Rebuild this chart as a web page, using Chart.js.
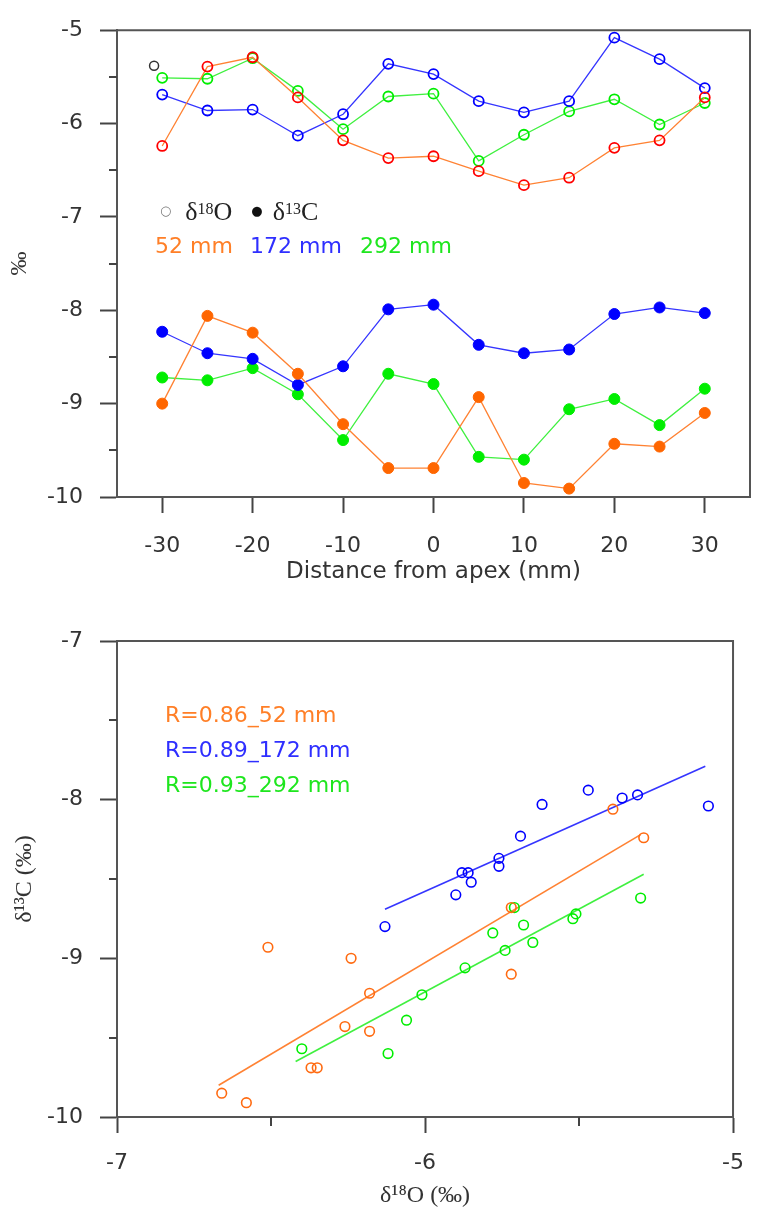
<!DOCTYPE html>
<html><head><meta charset="utf-8">
<script src="https://cdn.jsdelivr.net/npm/chart.js@4.4.1/dist/chart.umd.min.js"></script>
<style>
html,body{margin:0;padding:0;background:#fff;}
#wrap{width:761px;height:1211px;position:relative;overflow:hidden;}
.box{position:absolute;left:0;width:761px;}
#b1{top:0;height:600px;}
#b2{top:600px;height:611px;}
canvas{display:block;}
</style></head><body>
<div id="wrap">
<div class="box" id="b1"><canvas id="c1" width="761" height="600"></canvas></div>
<div class="box" id="b2"><canvas id="c2" width="761" height="611"></canvas></div>
</div>
<script>
// ---------- data ----------
const distance = [-30,-25,-20,-15,-10,-5,0,5,10,15,20,25,30];
const distanceTicks = [-30,-20,-10,0,10,20,30];
const d18O_52  = [-6.24,-5.39,-5.29,-5.72,-6.18,-6.37,-6.35,-6.51,-6.66,-6.58,-6.26,-6.18,-5.72];
const d18O_172 = [-5.69,-5.86,-5.85,-6.13,-5.90,-5.36,-5.47,-5.76,-5.88,-5.76,-5.08,-5.31,-5.62];
const d18O_292 = [-5.51,-5.52,-5.30,-5.65,-6.06,-5.71,-5.68,-6.40,-6.12,-5.87,-5.74,-6.01,-5.78];
const d13C_52  = [-9.00,-8.06,-8.24,-8.68,-9.22,-9.69,-9.69,-8.93,-9.85,-9.91,-9.43,-9.46,-9.10];
const d13C_172 = [-8.23,-8.46,-8.52,-8.80,-8.60,-7.99,-7.94,-8.37,-8.46,-8.42,-8.04,-7.97,-8.03];
const d13C_292 = [-8.72,-8.75,-8.62,-8.90,-9.39,-8.68,-8.79,-9.57,-9.60,-9.06,-8.95,-9.23,-8.84];
const strayMarkerX = [-30.9];
const strayMarkerY = [-5.38];
const seriesLabels = ['52 mm','172 mm','292 mm'];
const corrLabels = ['R=0.86_52 mm','R=0.89_172 mm','R=0.93_292 mm'];
const fitX_52  = [-6.67,-5.30], fitY_52  = [-9.80,-8.22];
const fitX_172 = [-6.13,-5.09], fitY_172 = [-8.69,-7.79];
const fitX_292 = [-6.42,-5.29], fitY_292 = [-9.65,-8.47];
const topYMinor = [-5.5,-6.5,-7.5,-8.5,-9.5];
const botYMinor = [-7.5,-8.5,-9.5];
const botXMinor = [-6.5,-5.5];

// ---------- helpers ----------
const pts = (xs, ys) => xs.map((x,i)=>({x:x, y:ys[i]}));
const SANS = '"DejaVu Sans", "Liberation Sans", sans-serif';
const SERIF = '"Liberation Serif", "DejaVu Serif", serif';
const AX = '#555', TK = '#444', TXT = '#333';
const C = {
  red:'#ff0000', orLine:'#ff8233', orFill:'#ff6600', orText:'#ff7f27',
  blue:'#0000ff', blLine:'#3535ff', blText:'#2f2fff',
  green:'#00ee00', grLine:'#40f040', grText:'#1ee61e'
};

const framePlugin = {
  id:'frame',
  afterDraw(chart, args, opts){
    const {ctx, chartArea:a, scales} = chart;
    ctx.save();
    ctx.strokeStyle = AX; ctx.lineWidth = 2;
    ctx.beginPath();
    ctx.moveTo(a.left, a.top); ctx.lineTo(a.right, a.top); ctx.lineTo(a.right, a.bottom);
    ctx.stroke();
    ctx.strokeStyle = TK; ctx.lineWidth = 2;
    (opts.yMinor||[]).forEach(v=>{
      const y = Math.round(scales.y.getPixelForValue(v));
      ctx.beginPath(); ctx.moveTo(a.left-8, y); ctx.lineTo(a.left, y); ctx.stroke();
    });
    (opts.xMinor||[]).forEach(v=>{
      const x = Math.round(scales.x.getPixelForValue(v));
      ctx.beginPath(); ctx.moveTo(x, a.bottom); ctx.lineTo(x, a.bottom+9); ctx.stroke();
    });
    ctx.restore();
  }
};
const textPlugin = {
  id:'overlayText',
  afterDraw(chart, args, opts){
    const ctx = chart.ctx;
    (opts.runs||[]).forEach(run=>{
      let x = run.x;
      run.parts.forEach(p=>{
        ctx.save();
        ctx.font = p.font; ctx.fillStyle = p.color;
        ctx.textBaseline = p.baseline || 'alphabetic'; ctx.textAlign = 'left';
        ctx.fillText(p.text, x, run.y + (p.dy||0));
        x += ctx.measureText(p.text).width + (p.gap||0);
        ctx.restore();
      });
    });
  }
};

function yScale(min, max, titleText, titlePad){
  return {
    type:'linear', min:min, max:max,
    afterFit: s => { s.width = 117; },
    ticks:{ stepSize:1, padding:17, color:TXT, font:{family:SANS, size:22} },
    grid:{ drawOnChartArea:false, drawTicks:true, tickLength:17, tickWidth:2, tickColor:TK },
    border:{ display:true, color:AX, width:2 },
    title:{ display:true, text:titleText, color:TXT, font:{family:SERIF, size:24}, padding:{top:titlePad, bottom:0} }
  };
}

// ---------- top chart ----------
const lineDs = (label, xs, ys, lineColor, ptColor, filled) => ({
  label:label, data:pts(xs, ys), showLine:true,
  borderColor:lineColor, borderWidth:1.3,
  pointRadius: filled ? 5.5 : 5, pointBorderWidth: filled ? 1 : 1.8,
  pointBorderColor:ptColor, pointBackgroundColor: filled ? ptColor : 'rgba(0,0,0,0)',
  pointStyle:'circle', tension:0
});

new Chart(document.getElementById('c1'), {
  type:'line',
  data:{ datasets:[
    lineDs('δ18O 52 mm', distance, d18O_52, C.orLine, C.red, false),
    lineDs('δ18O 172 mm', distance, d18O_172, C.blLine, C.blue, false),
    lineDs('δ18O 292 mm', distance, d18O_292, C.grLine, C.green, false),
    lineDs('δ13C 52 mm', distance, d13C_52, C.orLine, C.orFill, true),
    lineDs('δ13C 172 mm', distance, d13C_172, C.blLine, C.blue, true),
    lineDs('δ13C 292 mm', distance, d13C_292, C.grLine, C.green, true),
    { label:'marker', data:pts(strayMarkerX, strayMarkerY), showLine:false,
      pointRadius:4.5, pointBorderWidth:1.5, pointBorderColor:'#333', pointBackgroundColor:'rgba(0,0,0,0)' }
  ]},
  options:{
    responsive:false, animation:false, devicePixelRatio:1,
    layout:{ padding:{ top:21, right:11, left:0, bottom:0 } },
    plugins:{
      legend:{display:false}, tooltip:{enabled:false},
      frame:{ yMinor:topYMinor },
      overlayText:{ runs:[
        { x:160, y:212, parts:[
          {text:'○', font:'13px '+SANS, color:'#777', baseline:'middle', gap:14},
          {text:'δ', font:'26px '+SERIF, color:'#222', dy:8},
          {text:'18', font:'16px '+SERIF, color:'#222', dy:2},
          {text:'O', font:'26px '+SERIF, color:'#222', dy:8, gap:19},
          {text:'●', font:'13px '+SANS, color:'#111', baseline:'middle', gap:10},
          {text:'δ', font:'26px '+SERIF, color:'#222', dy:8},
          {text:'13', font:'16px '+SERIF, color:'#222', dy:2},
          {text:'C', font:'26px '+SERIF, color:'#222', dy:8}
        ]},
        { x:155, y:253, parts:[ {text:seriesLabels[0], font:'22px '+SANS, color:C.orText} ]},
        { x:250, y:253, parts:[ {text:seriesLabels[1], font:'22px '+SANS, color:C.blText} ]},
        { x:360, y:253, parts:[ {text:seriesLabels[2], font:'22px '+SANS, color:C.grText} ]}
      ]}
    },
    scales:{
      x:{
        type:'linear', min:-35, max:35,
        afterBuildTicks: s => { s.ticks = distanceTicks.map(v=>({value:v})); },
        afterFit: s => { s.height = 103; },
        ticks:{ padding:20, color:TXT, font:{family:SANS, size:22}, maxRotation:0, autoSkip:false },
        grid:{ drawOnChartArea:false, drawTicks:true, tickLength:16, tickWidth:2, tickColor:TK },
        border:{ display:true, color:AX, width:2 },
        title:{ display:true, text:'Distance from apex (mm)', color:TXT, font:{family:SANS, size:23}, padding:{top:0, bottom:14} }
      },
      y: yScale(-10, -5, '‰', 5)
    }
  },
  plugins:[framePlugin, textPlugin]
});

// ---------- bottom chart ----------
const scatDs = (label, xs, ys, color) => ({
  label:label, data:pts(xs, ys), showLine:false,
  pointRadius:4.8, pointBorderWidth:1.6, pointBorderColor:color,
  pointBackgroundColor:'rgba(0,0,0,0)'
});
const fitDs = (label, xs, ys, color) => ({
  label:label, data:pts(xs, ys), showLine:true, borderColor:color, borderWidth:1.6,
  pointRadius:0
});

new Chart(document.getElementById('c2'), {
  type:'scatter',
  data:{ datasets:[
    scatDs('52 mm', d18O_52, d13C_52, '#ff6a10'),
    scatDs('172 mm', d18O_172, d13C_172, C.blue),
    scatDs('292 mm', d18O_292, d13C_292, C.green),
    fitDs('fit 52 mm', fitX_52, fitY_52, C.orLine),
    fitDs('fit 172 mm', fitX_172, fitY_172, C.blLine),
    fitDs('fit 292 mm', fitX_292, fitY_292, C.grLine)
  ]},
  options:{
    responsive:false, animation:false, devicePixelRatio:1,
    layout:{ padding:{ top:41, right:11, left:0, bottom:0 } },
    plugins:{
      legend:{display:false}, tooltip:{enabled:false},
      frame:{ yMinor:botYMinor, xMinor:botXMinor },
      overlayText:{ runs:[
        { x:165, y:122, parts:[ {text:corrLabels[0], font:'22px '+SANS, color:C.orText} ]},
        { x:165, y:157, parts:[ {text:corrLabels[1], font:'22px '+SANS, color:C.blText} ]},
        { x:165, y:192, parts:[ {text:corrLabels[2], font:'22px '+SANS, color:C.grText} ]}
      ]}
    },
    scales:{
      x:{
        type:'linear', min:-7, max:-5,
        afterFit: s => { s.height = 94; },
        ticks:{ stepSize:1, padding:17, color:TXT, font:{family:SANS, size:22}, maxRotation:0 },
        grid:{ drawOnChartArea:false, drawTicks:true, tickLength:16, tickWidth:2, tickColor:TK },
        border:{ display:true, color:AX, width:2 },
        title:{ display:true, text:'δ¹⁸O (‰)', color:TXT, font:{family:SERIF, size:24, lineHeight:1}, padding:{top:0, bottom:3} }
      },
      y: yScale(-10, -7, 'δ¹³C (‰)', 10)
    }
  },
  plugins:[framePlugin, textPlugin]
});
</script>
</body></html>
